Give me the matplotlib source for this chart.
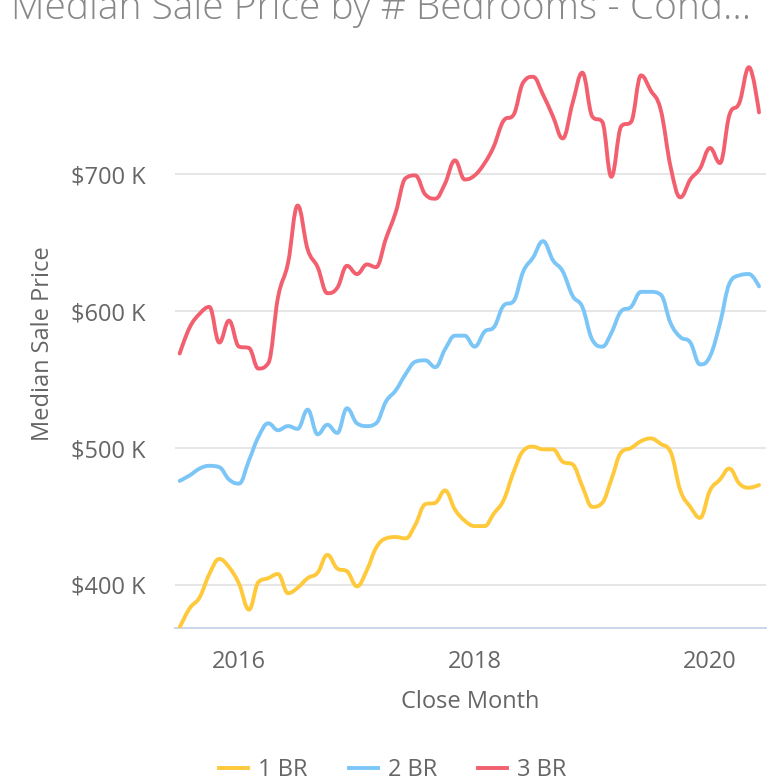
import numpy as np
import matplotlib
matplotlib.use("Agg")
import matplotlib.pyplot as plt
import matplotlib.dates as mdates
from matplotlib.path import Path
from matplotlib.patches import PathPatch
from matplotlib.lines import Line2D

plt.rcParams['font.family'] = ['Open Sans', 'DejaVu Sans']

# ---------------- data ----------------
months = np.arange(np.datetime64('2015-07'), np.datetime64('2020-07'), np.timedelta64(1, 'M'))
series_names = ["1 BR", "2 BR", "3 BR"]
br1 = [369, 383, 391, 408, 419, 413, 401, 382, 402, 405,
       408, 394, 398, 405, 409, 422, 412, 410, 399, 411,
       427, 434, 435, 434, 444, 459, 460, 469, 455, 447,
       443, 443, 452, 462, 482, 498, 501, 499, 499, 490,
       488, 472, 457, 460, 477, 497, 500, 505, 507, 503,
       497, 469, 457, 449, 469, 477, 485, 474, 471, 473]
br2 = [476, 480, 485, 487, 486, 477, 474, 491, 508, 518,
       513, 516, 514, 528, 510, 517, 511, 529, 518, 516,
       518, 534, 542, 554, 563, 564, 559, 572, 582, 582,
       574, 585, 588, 604, 607, 629, 639, 651, 637, 629,
       611, 603, 579, 574, 584, 600, 603, 614, 614, 612,
       591, 581, 577, 561, 567, 591, 620, 626, 627, 618]
br3 = [569, 588, 598, 603, 577, 593, 574, 573, 558, 562,
       610, 635, 677, 645, 632, 613, 617, 633, 627, 634,
       632, 653, 672, 697, 699, 685, 682, 693, 710, 696,
       699, 708, 720, 739, 743, 767, 771, 758, 742, 726,
       752, 774, 742, 738, 698, 735, 738, 772, 761, 747,
       705, 683, 696, 704, 719, 708, 743, 752, 778, 745]
colors = ["#FFC93C", "#7CC6F7", "#F2606F"]
yticks = [400, 500, 600, 700]
xtick_years = ["2016-01-01", "2018-01-01", "2020-01-01"]

TXT = "#666666"
FS = 17

def spline_path(x, y, smoothing=1.5):
    """Highcharts-style spline through the points (cubic Bezier)."""
    n = len(x)
    denom = smoothing + 1
    lcx = np.array(x, float); lcy = np.array(y, float)
    rcx = np.array(x, float); rcy = np.array(y, float)
    for i in range(1, n - 1):
        px, py = x[i], y[i]
        lx, ly = x[i - 1], y[i - 1]
        nx, ny = x[i + 1], y[i + 1]
        lX = (smoothing * px + lx) / denom
        lY = (smoothing * py + ly) / denom
        rX = (smoothing * px + nx) / denom
        rY = (smoothing * py + ny) / denom
        corr = 0.0
        if rX != lX:
            corr = ((rY - lY) * (rX - px)) / (rX - lX) + py - rY
        lY += corr; rY += corr
        if lY > ly and lY > py:
            lY = max(ly, py); rY = 2 * py - lY
        elif lY < ly and lY < py:
            lY = min(ly, py); rY = 2 * py - lY
        if rY > ny and rY > py:
            rY = max(ny, py); lY = 2 * py - rY
        elif rY < ny and rY < py:
            rY = min(ny, py); lY = 2 * py - rY
        lcx[i], lcy[i], rcx[i], rcy[i] = lX, lY, rX, rY
    verts = [(x[0], y[0])]
    codes = [Path.MOVETO]
    for i in range(1, n):
        verts += [(rcx[i - 1], rcy[i - 1]), (lcx[i], lcy[i]), (x[i], y[i])]
        codes += [Path.CURVE4] * 3
    return Path(verts, codes)

W, H = 777, 783
fig = plt.figure(figsize=(W / 100, H / 100), dpi=100)
ax_l, ax_r, ax_t, ax_b = 175, 766, 45, 628
ax = fig.add_axes([ax_l / W, 1 - ax_b / H, (ax_r - ax_l) / W, (ax_b - ax_t) / H])

xd = mdates.date2num(months.astype('datetime64[D]'))
for vals, c in zip([br1, br2, br3], colors):
    p = spline_path(xd, np.array(vals, float))
    ax.add_patch(PathPatch(p, facecolor='none', edgecolor=c, lw=2.8,
                           capstyle='round', joinstyle='round', zorder=3))

d2016 = mdates.date2num(np.datetime64('2016-01-01'))
ax.set_xlim(d2016 - 198.5, d2016 + 1634.7)
ax.set_ylim(368.6, 794.2)

ax.set_yticks(yticks)
ax.set_yticklabels([f"${v} K" for v in yticks])
ax.set_xticks([mdates.date2num(np.datetime64(d)) for d in xtick_years])
ax.set_xticklabels([d[:4] for d in xtick_years])
ax.grid(axis='y', color='#e6e6e6', lw=1.4)
ax.set_axisbelow(True)
for s in ['top', 'right', 'left']:
    ax.spines[s].set_visible(False)
ax.spines['bottom'].set_color('#ccd6eb')
ax.spines['bottom'].set_linewidth(1.4)
ax.tick_params(axis='y', length=0, pad=21, labelsize=FS, labelcolor=TXT)
ax.tick_params(axis='x', length=0, pad=16, labelsize=FS, labelcolor=TXT)

fig.text(470 / W, 1 - 702 / H, "Close Month", ha='center', va='center', fontsize=FS, color=TXT)
fig.text(43 / W, 1 - 344 / H, "Median Sale Price", ha='center', va='center',
         rotation=90, fontsize=FS, color=TXT)
fig.text(11 / W, 1 - 19 / H, "Median Sale Price by # Bedrooms - Cond...", ha='left',
         va='baseline', fontsize=28, color='#888888', fontweight='light')

handles = [Line2D([], [], color=c, lw=2.8) for c in colors]
fig.legend(handles, series_names, loc='center', bbox_to_anchor=(393 / W, 13 / H), ncol=3,
           frameon=False, fontsize=FS, labelcolor=TXT, handlelength=1.23,
           handletextpad=0.42, columnspacing=1.74)

fig.savefig("out.png", dpi=100)
